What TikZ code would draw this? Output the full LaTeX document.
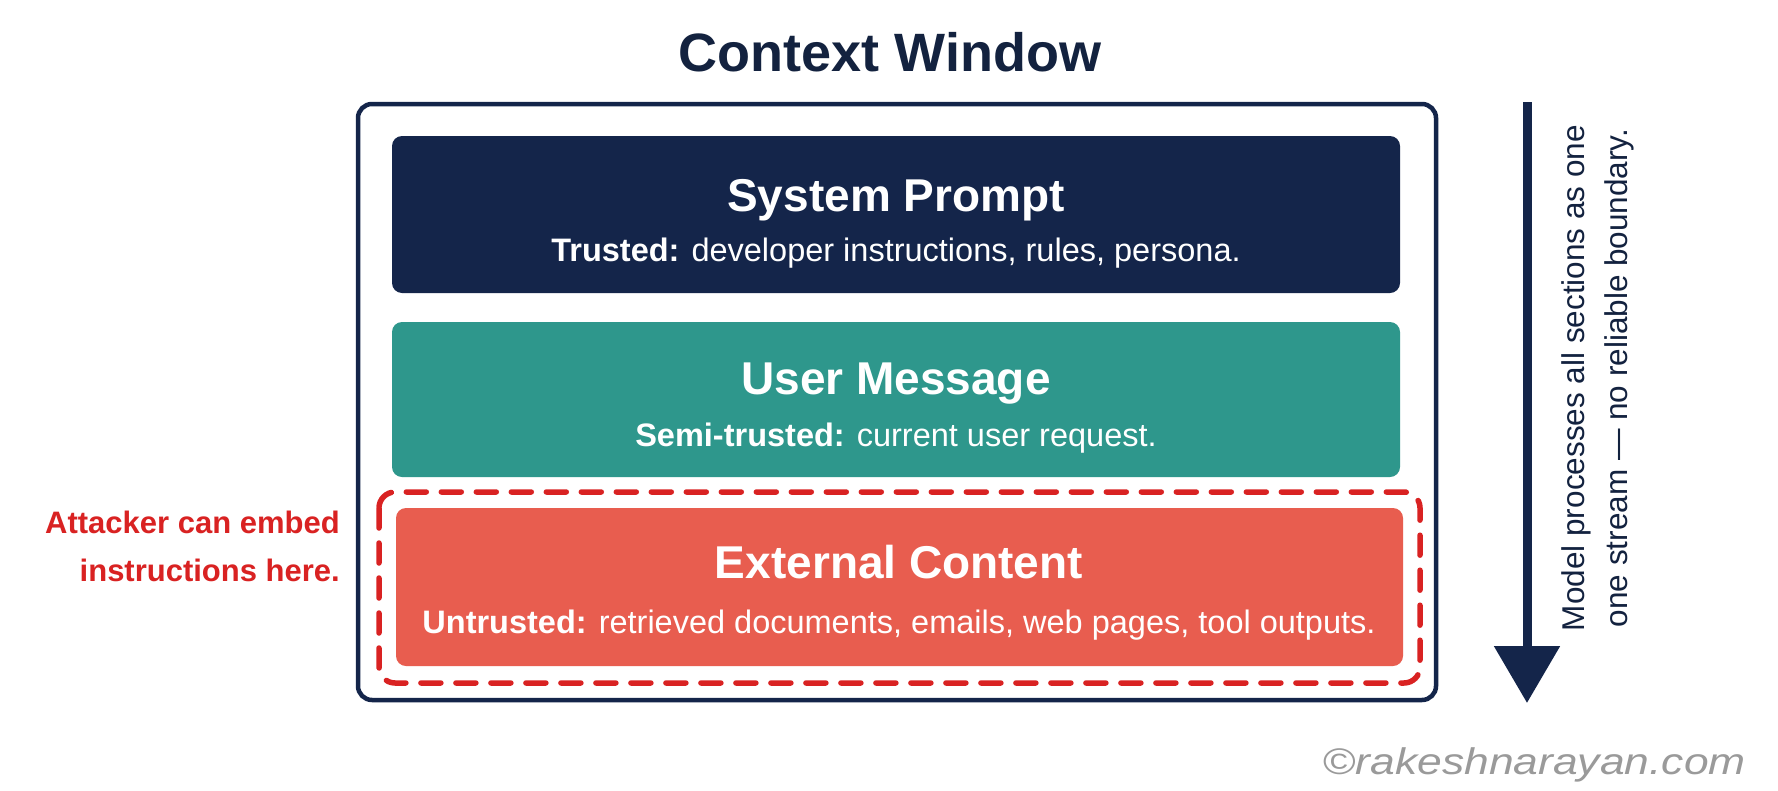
\documentclass[tikz,border=0pt]{standalone}
\usepackage{fontspec}
\setmainfont{Liberation Sans}
\usetikzlibrary{arrows.meta}
\definecolor{navy}{HTML}{14254A}
\definecolor{titlenavy}{HTML}{13223F}
\definecolor{tealc}{HTML}{2E978C}
\definecolor{coral}{HTML}{E85D4F}
\definecolor{alertred}{HTML}{D92222}
\definecolor{wmgrey}{HTML}{9A9A9A}
\tikzset{
  section/.style={rounded corners=10pt},
  head/.style={anchor=base, text=white, font=\bfseries\fontsize{46}{50}\selectfont, inner sep=0pt},
  sub/.style={anchor=base, text=white, font=\fontsize{32.5}{36}\selectfont, inner sep=0pt},
}
\begin{document}
\begin{tikzpicture}[x=1pt,y=-1pt]
\path[use as bounding box, fill=white] (0,0) rectangle (1778,790);

% title
\node[anchor=base, text=titlenavy, font=\bfseries\fontsize{54}{60}\selectfont, inner sep=0pt] (title) at (890,71) {Context Window};

% outer window
\draw[navy, line width=4.5pt, rounded corners=14pt] (358,104) rectangle (1436,700);

% sections
\fill[navy, section] (392,136) rectangle (1400,293);
\node[head] (sp) at (896,211.5) {System Prompt};
\node[sub] (spt) at (896,261) {\textbf{Trusted:} developer instructions, rules, persona.};

\fill[tealc, section] (392,322) rectangle (1400,477);
\node[head] (um) at (896,394.5) {User Message};
\node[sub] (umt) at (896,446) {\textbf{Semi-trusted:} current user request.};

\fill[coral, section] (396,508) rectangle (1403,666);
\node[head] (ec) at (899,578.5) {External Content};
\node[sub] (ect) at (899,633) {\textbf{Untrusted:} retrieved documents, emails, web pages, tool outputs.};

% dashed attack frame
\draw[alertred, line width=5.5pt, dash pattern=on 20pt off 15pt, line cap=round, rounded corners=16pt] (379,492) rectangle (1420,683);

% attacker note
\node[anchor=base east, text=alertred, font=\bfseries\fontsize{31}{48}\selectfont, inner sep=0pt, align=right] (att) at (340,581) {Attacker can embed\\instructions here.};

% flow arrow
\coordinate (atop) at (1527,102);
\coordinate (abot) at (1527,703);
\draw[navy, line width=9pt, -{Triangle[width=64pt,length=57pt]}] (atop) -- (abot);

\node[rotate=90, text=titlenavy, font=\fontsize{31.5}{43}\selectfont, align=center, inner sep=0pt] (flow) at (1598,378) {Model processes all sections as one\\one stream --- no reliable boundary.};

% watermark
\node[anchor=base east, text=wmgrey, inner sep=0pt] (wm) at (1746,774) {\scalebox{1.2}[1]{\fontsize{37}{40}\selectfont\textcopyright\textit{rakeshnarayan.com}}};
\end{tikzpicture}
\end{document}
